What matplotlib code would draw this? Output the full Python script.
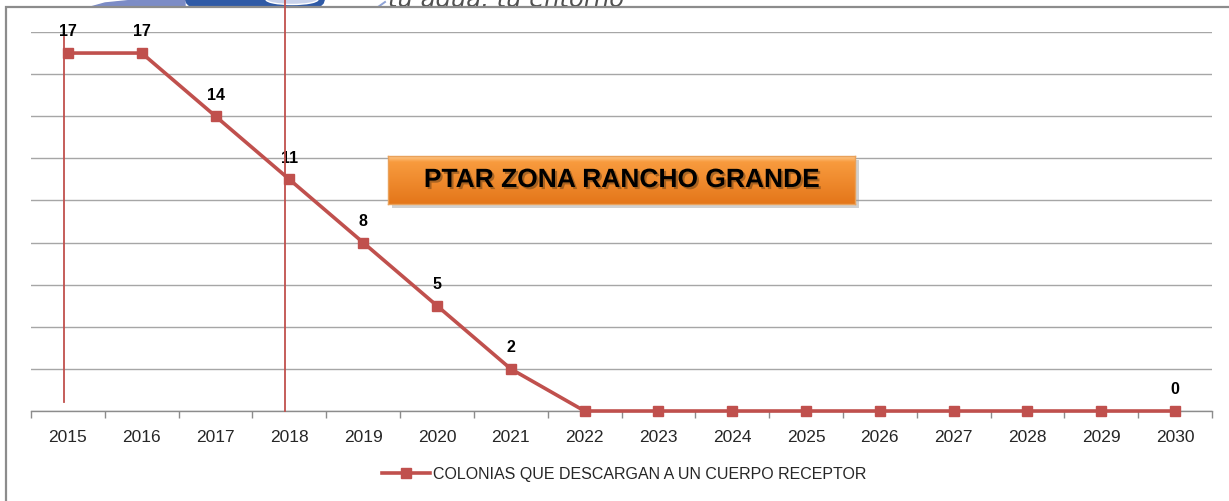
"""
PTAR Zona Rancho Grande - colonias que descargan a un cuerpo receptor.
"""
import matplotlib
matplotlib.use("Agg")
import matplotlib.pyplot as plt
import matplotlib.patheffects as pe
from matplotlib.patches import Rectangle, Ellipse, FancyBboxPatch, Polygon
import numpy as np

plt.rcParams['font.family'] = ['Liberation Sans', 'DejaVu Sans']

years = [2015, 2016, 2017, 2018, 2019, 2020, 2021, 2022,
         2023, 2024, 2025, 2026, 2027, 2028, 2029, 2030]
colonias = [17, 17, 14, 11, 8, 5, 2, 0, 0, 0, 0, 0, 0, 0, 0, 0]
labeled_years = [2015, 2016, 2017, 2018, 2019, 2020, 2021, 2030]
series_name = "COLONIAS QUE DESCARGAN A UN CUERPO RECEPTOR"
title = "PTAR ZONA RANCHO GRANDE"
# red guide lines drawn on the chart: (x position in years, y bottom, y top)
guide_lines = [(2014.95, 0.43, 17.76), (2017.94, 0.0, 19.56)]

RED = "#C0504D"
W, H = 1229, 502

fig = plt.figure(figsize=(W / 100, H / 100), dpi=100)
fig.patch.set_facecolor("white")


def px(x, y):
    # pixel position (from top-left) -> figure fraction
    return x / W, 1 - y / H


# logo fragment peeking above the frame
bg = fig.add_axes([0, 0, 1, 1], zorder=0)
bg.set_xlim(0, W)
bg.set_ylim(H, 0)
bg.axis("off")
bg.add_patch(Polygon([(87, 9), (105, 4), (130, 1.5), (160, 0), (185, 0), (185, 9)],
                     closed=True, color="#7C8CC6"))
bg.add_patch(FancyBboxPatch((191, -20), 128, 22,
                            boxstyle="round,pad=6,rounding_size=9",
                            facecolor="#2F5AA6", edgecolor="none"))
bg.add_patch(Ellipse((292, 0.5), 52, 10, facecolor="#C9D3EC",
                     edgecolor="white", lw=1))
bg.plot([378, 385], [8, 3], color="#8FA3D6", lw=1.4)
bg.text(388, 6.5, "tu agua, tu entorno", fontsize=17.5, style="italic",
        color="#505050", family="DejaVu Sans", va="baseline", ha="left")
bg.add_patch(Rectangle((6, 8), W, H, facecolor="white",
                       edgecolor="#8C8C8C", lw=1.6, zorder=5))

# main chart
ax = fig.add_axes([31 / W, 1 - 412 / H, (1212 - 31) / W, (412 - 33) / H],
                  zorder=2)
ax.set_facecolor("none")
x = np.array(years)
ax.plot(x, colonias, color=RED, lw=2.6, marker="s", markersize=6.5,
        label=series_name, zorder=4, clip_on=False)

for yr, val in zip(years, colonias):
    if yr in labeled_years:
        ax.annotate(str(val), (yr, val), xytext=(0, 16),
                    textcoords="offset points", ha="center", va="center",
                    fontsize=11.5, fontweight="bold", color="black")

for gx, y0, y1 in guide_lines:
    ax.plot([gx, gx], [y0, y1], color=RED, lw=1.3, zorder=6, clip_on=False)

ax.set_xlim(years[0] - 0.5, years[-1] + 0.5)
ax.set_ylim(0, 18)
ax.set_yticks(np.arange(0, 19, 2))
ax.set_yticklabels([])
ax.tick_params(axis="y", length=0)
ax.grid(axis="y", color="#A6A6A6", lw=1.0)
ax.set_axisbelow(True)

ax.set_xticks(years)
ax.set_xticklabels([str(y) for y in years], fontsize=12.5, color="#262626")
ax.set_xticks(np.arange(years[0] - 0.5, years[-1] + 1), minor=True)
ax.tick_params(axis="x", which="major", length=0, pad=13)
ax.tick_params(axis="x", which="minor", length=5, color="#8C8C8C", width=1)
for s in ["top", "right", "left"]:
    ax.spines[s].set_visible(False)
ax.spines["bottom"].set_color("#8C8C8C")
ax.spines["bottom"].set_linewidth(1.0)

fig.legend(loc="center", bbox_to_anchor=px(624, 475), frameon=False,
           fontsize=11.5, handlelength=3.0, handletextpad=0.2,
           labelcolor="#262626")

# title box with orange gradient
bx0, by0, bx1, by1 = 388, 157, 855, 205
shadow = FancyBboxPatch(px(bx0 + 4, by1 + 4), (bx1 - bx0) / W, (by1 - by0) / H,
                        boxstyle="square,pad=0", transform=fig.transFigure,
                        facecolor="#9A9A9A", edgecolor="none", alpha=0.45,
                        zorder=7)
fig.patches.append(shadow)
tax = fig.add_axes([bx0 / W, 1 - by1 / H, (bx1 - bx0) / W, (by1 - by0) / H],
                   zorder=8)
grad = np.linspace(0, 1, 100)[:, None]
top_c = np.array([253, 200, 140]) / 255
mid_c = np.array([248, 155, 62]) / 255
bot_c = np.array([228, 118, 26]) / 255
img = np.where(grad < 0.12, top_c + (mid_c - top_c) * (grad / 0.12),
               mid_c + (bot_c - mid_c) * ((grad - 0.12) / 0.88))
img = img.reshape(100, 1, 3)
tax.imshow(img, aspect="auto", extent=(0, 1, 0, 1), origin="upper")
tax.set_xlim(0, 1)
tax.set_ylim(0, 1)
tax.set_xticks([])
tax.set_yticks([])
for s in tax.spines.values():
    s.set_color("#E9A15A")
    s.set_linewidth(1.0)
tax.text(0.5, 0.5, title, ha="center", va="center", fontsize=19,
         fontweight="bold", color="black",
         path_effects=[pe.withSimplePatchShadow(offset=(1.5, -1.5),
                                                shadow_rgbFace="#7A4A1A",
                                                alpha=0.6)])

fig.savefig("out.png", dpi=100)
